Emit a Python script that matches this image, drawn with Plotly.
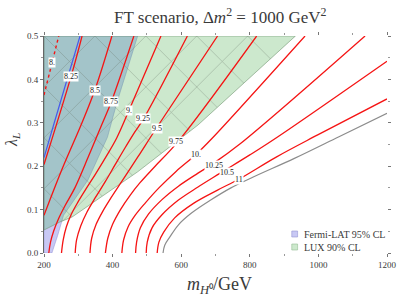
import plotly.graph_objects as go

# ---------------- data (m_H0 in GeV, lambda_L) ----------------
levels = ["8.", "8.25", "8.5", "8.75", "9.", "9.25", "9.5", "9.75", "10.", "10.25", "10.5", "11"]

c800_m = [200, 243]
c800_l = [0.364, 0.5]
c825_m = [200, 280, 311]
c825_l = [0.204, 0.41, 0.5]
c850_m = [200, 254, 308, 348, 398]
c850_l = [0.087, 0.196, 0.295, 0.375, 0.5]
c875_m = [214, 219, 228, 243, 262, 290, 331, 368, 396, 462]
c875_l = [0.0, 0.025, 0.05, 0.08, 0.11, 0.15, 0.225, 0.295, 0.348, 0.5]
c900_m = [251, 256, 265, 279, 298, 322, 351, 381, 412, 447, 541]
c900_l = [0.0, 0.03, 0.06, 0.088, 0.116, 0.147, 0.183, 0.222, 0.265, 0.327, 0.5]
c925_m = [291, 295, 307, 325, 350, 379, 407, 436, 464, 490, 618]
c925_l = [0.0, 0.03, 0.062, 0.094, 0.128, 0.165, 0.203, 0.242, 0.278, 0.309, 0.5]
c950_m = [334, 339, 352, 372, 396, 421, 446, 475, 528, 706]
c950_l = [0.0, 0.034, 0.066, 0.097, 0.128, 0.158, 0.188, 0.223, 0.288, 0.5]
c975_m = [379, 386, 400, 423, 451, 480, 524, 590, 820]
c975_l = [0.0, 0.034, 0.066, 0.1, 0.133, 0.162, 0.2, 0.256, 0.5]
c1000_m = [427, 432, 445, 466, 495, 535, 585, 643, 691, 961]
c1000_l = [0.0, 0.03, 0.06, 0.087, 0.115, 0.150, 0.188, 0.227, 0.265, 0.5]
c1025_m = [467, 470, 481, 505, 544, 592, 649, 695, 771, 1136]
c1025_l = [0.0, 0.025, 0.058, 0.09, 0.123, 0.154, 0.184, 0.207, 0.251, 0.5]
c1050_m = [498, 501, 515, 544, 592, 649, 714, 800, 882, 1200]
c1050_l = [0.0, 0.025, 0.058, 0.088, 0.122, 0.152, 0.184, 0.226, 0.268, 0.442]
c1100_m = [530, 535, 549, 581, 637, 706, 768, 877, 998, 1200]
c1100_l = [0.0, 0.025, 0.048, 0.081, 0.115, 0.145, 0.170, 0.221, 0.272, 0.355]

blue_m = [200, 231, 305]
blue_l = [0.22, 0.303, 0.5]

gray_m = [547, 552, 567, 592, 630, 686, 745, 810, 930, 1060, 1200]
gray_l = [0.0, 0.018, 0.037, 0.065, 0.092, 0.122, 0.150, 0.175, 0.218, 0.268, 0.322]

lux_m = [200, 933, 649, 473, 282, 245, 200, 200]
lux_l = [0.5, 0.5, 0.295, 0.187, 0.083, 0.071, 0.053, 0.5]

fermi_m = [200, 223, 240, 257, 328, 385, 413, 473, 200, 200]
fermi_l = [0.0, 0.0, 0.041, 0.087, 0.168, 0.267, 0.348, 0.5, 0.5, 0.0]

label_m = [222, 279, 348, 395, 447, 490, 530, 586, 643, 695, 733, 769]
label_l = [0.438, 0.406, 0.375, 0.348, 0.328, 0.309, 0.287, 0.256, 0.227, 0.201, 0.186, 0.170]

x_ticks = [200, 400, 600, 800, 1000, 1200]
y_ticks = [0.0, 0.1, 0.2, 0.3, 0.4, 0.5]
legend_names = ["Fermi-LAT 95% CL", "LUX 90% CL"]

# ---------------- figure ----------------
SERIF = "Liberation Serif"
TXT = "#3a3a3a"
fig = go.Figure()

# LUX base (near white), Fermi lavender, then LUX tint on top -> green / teal overlap
fig.add_trace(go.Scatter(
    x=lux_m, y=lux_l, mode="none", fill="toself", fillcolor="rgb(252,246,249)",
    showlegend=False, hoverinfo="skip"))
fig.add_trace(go.Scatter(
    x=fermi_m, y=fermi_l, mode="lines", fill="toself", fillcolor="rgb(200,200,244)",
    line=dict(color="rgba(150,150,215,0.8)", width=0.7),
    showlegend=False, hoverinfo="skip"))
fig.add_trace(go.Scatter(
    x=lux_m, y=lux_l, mode="lines", fill="toself", fillcolor="rgba(15,181,29,0.2)",
    line=dict(color="rgba(120,155,120,0.8)", width=0.8),
    showlegend=False, hoverinfo="skip"))
fig.add_trace(go.Scatter(
    x=lux_m, y=lux_l, mode="none", fill="toself", fillcolor="rgba(0,0,0,0)",
    fillpattern=dict(shape="x", size=36, solidity=0.035, fgcolor="rgba(105,115,105,0.5)",
                     bgcolor="rgba(0,0,0,0)", fillmode="replace"),
    showlegend=False, hoverinfo="skip"))

red = "rgb(245,20,20)"
curves = [(c825_m, c825_l), (c850_m, c850_l), (c875_m, c875_l), (c900_m, c900_l),
          (c925_m, c925_l), (c950_m, c950_l), (c975_m, c975_l), (c1000_m, c1000_l),
          (c1025_m, c1025_l), (c1050_m, c1050_l), (c1100_m, c1100_l)]

fig.add_trace(go.Scatter(x=gray_m, y=gray_l, mode="lines", line=dict(color="#8c8c8c", width=1.2, shape="spline"),
                         showlegend=False, hoverinfo="skip"))
fig.add_trace(go.Scatter(x=blue_m, y=blue_l, mode="lines", line=dict(color="rgb(70,90,235)", width=1.2, shape="spline"),
                         showlegend=False, hoverinfo="skip"))
fig.add_trace(go.Scatter(x=c800_m, y=c800_l, mode="lines", line=dict(color=red, width=1.4, dash="dot"),
                         showlegend=False, hoverinfo="skip"))
for cm, cl in curves:
    fig.add_trace(go.Scatter(x=cm, y=cl, mode="lines",
                             line=dict(color=red, width=1.3, shape="spline", smoothing=1.0),
                             showlegend=False, hoverinfo="skip"))

# invisible trace for the mirrored (top / right) tick axes
fig.add_trace(go.Scatter(x=[x_ticks[0]], y=[y_ticks[0]], xaxis="x2", yaxis="y2", mode="markers",
                         marker=dict(opacity=0), showlegend=False, hoverinfo="skip"))

for txt, lm, ll in zip(levels, label_m, label_l):
    fig.add_annotation(x=lm, y=ll, text=txt, showarrow=False, bgcolor="white",
                       font=dict(family=SERIF, size=8, color="#222"), borderpad=0)

# legend swatches + text
L, T, W, H = 44, 36, 353, 217
def px2paper(px, py):
    return (px - L) / W, (T + H - py) / H

sw_cols = ["rgb(200,200,244)", "rgb(205,233,205)"]
sw_edges = ["rgb(150,150,210)", "rgb(150,190,150)"]
for i, (name, col, ec) in enumerate(zip(legend_names, sw_cols, sw_edges)):
    cy = 234 + 13 * i
    x0, y0 = px2paper(299, cy + 3)
    x1, y1 = px2paper(305, cy - 3)
    fig.add_shape(type="rect", xref="paper", yref="paper", x0=x0, y0=y0, x1=x1, y1=y1,
                  fillcolor=col, line=dict(color=ec, width=0.6))
    tx, ty = px2paper(310, cy)
    fig.add_annotation(xref="paper", yref="paper", x=tx, y=ty, text=name, showarrow=False,
                       xanchor="left", yanchor="middle", font=dict(family=SERIF, size=10, color=TXT))

# title and axis titles
tx, ty = px2paper(226, 16)
fig.add_annotation(xref="paper", yref="paper", x=tx, y=ty, showarrow=False, xanchor="center", yanchor="middle",
                   text="FT scenario, Δ<i>m</i><sup>2</sup> = 1000 GeV<sup>2</sup>",
                   font=dict(family=SERIF, size=17, color=TXT))
tx, ty = px2paper(225, 285)
fig.add_annotation(xref="paper", yref="paper", x=tx, y=ty, showarrow=False, xanchor="center", yanchor="middle",
                   text="<i>m</i><sub><i>H</i>⁰</sub>/GeV", font=dict(family=SERIF, size=18, color=TXT))
tx, ty = px2paper(11, 140)
fig.add_annotation(xref="paper", yref="paper", x=tx, y=ty, showarrow=False, xanchor="center", yanchor="middle",
                   textangle=-90, text="<i>λ</i><sub><i>L</i></sub>", font=dict(family=SERIF, size=16, color=TXT))

tickfont = dict(family=SERIF, size=9, color=TXT)
fig.update_layout(
    width=405, height=304,
    margin=dict(l=L, r=405 - L - W, t=T, b=304 - T - H),
    paper_bgcolor="white", plot_bgcolor="white",
    showlegend=False,
    xaxis=dict(range=[200, 1200], tickvals=x_ticks, ticks="outside", ticklen=3, tickcolor="#777",
               tickfont=tickfont, showgrid=False, zeroline=False, showline=False,
               minor=dict(ticks="outside", ticklen=2, dtick=100, tick0=200, tickcolor="#999")),
    yaxis=dict(range=[0, 0.5], tickvals=y_ticks, tickformat=".1f", ticks="outside", ticklen=3, tickcolor="#777",
               tickfont=tickfont, showgrid=False, zeroline=False, showline=True, linecolor="#666", linewidth=1,
               minor=dict(ticks="outside", ticklen=2, dtick=0.05, tick0=0, tickcolor="#999")),
    xaxis2=dict(range=[200, 1200], overlaying="x", side="top", anchor="y", tickvals=x_ticks, ticks="outside",
                ticklen=3, tickcolor="#777", showticklabels=False, showgrid=False, zeroline=False, showline=False,
                minor=dict(ticks="outside", ticklen=2, dtick=100, tick0=200, tickcolor="#999")),
    yaxis2=dict(range=[0, 0.5], overlaying="y", side="right", anchor="x", tickvals=y_ticks, ticks="outside",
                ticklen=3, tickcolor="#777", showticklabels=False, showgrid=False, zeroline=False, showline=False,
                minor=dict(ticks="outside", ticklen=2, dtick=0.05, tick0=0, tickcolor="#999")),
)

fig.write_html("out.html", config={"displayModeBar": False},
               post_script="document.body.style.margin='0';")
